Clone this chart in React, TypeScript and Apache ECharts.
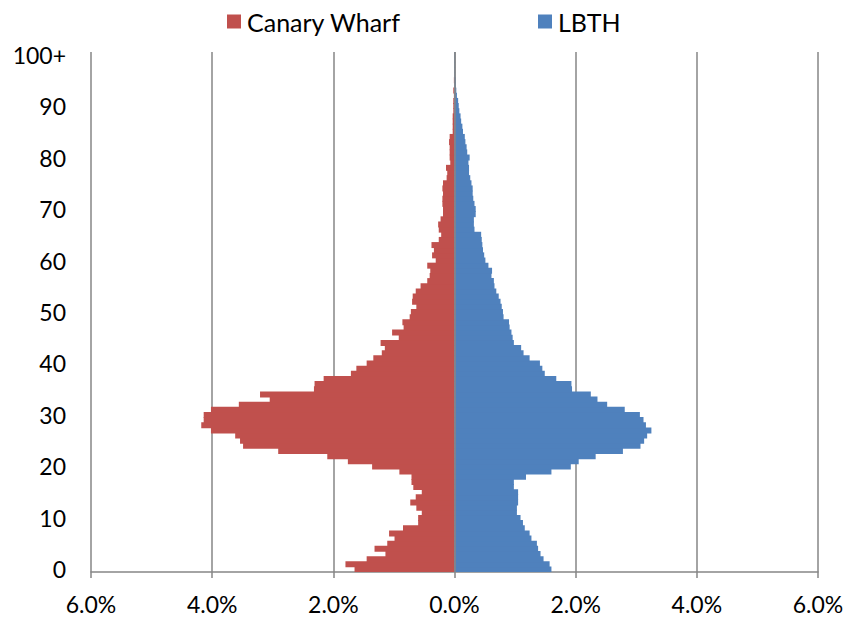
import React, { useEffect, useRef } from "react";
import * as echarts from "echarts";

// Age categories 0..99 and 100+
const ageLabels: string[] = Array.from({ length: 100 }, (_, i) => String(i)).concat(["100+"]);

// Share of population (%) by single year of age
const canaryWharf: number[] = [
  1.65, 1.80, 1.45, 1.14, 1.32, 1.11, 0.99, 1.08, 0.85, 0.60,
  0.60, 0.54, 0.63, 0.73, 0.64, 0.54, 0.68, 0.71, 0.71, 0.91,
  1.36, 1.76, 2.10, 2.91, 3.49, 3.54, 3.62, 4.02, 4.18, 4.14,
  4.14, 4.02, 3.56, 3.05, 3.21, 2.32, 2.31, 2.16, 1.71, 1.62,
  1.45, 1.34, 1.20, 1.15, 1.22, 0.92, 1.03, 0.84, 0.86, 0.74,
  0.72, 0.63, 0.70, 0.69, 0.64, 0.56, 0.45, 0.41, 0.40, 0.45,
  0.31, 0.37, 0.34, 0.38, 0.26, 0.22, 0.26, 0.27, 0.23, 0.19,
  0.19, 0.20, 0.20, 0.19, 0.20, 0.19, 0.13, 0.12, 0.14, 0.07,
  0.08, 0.08, 0.08, 0.09, 0.08, 0.03, 0.03, 0.03, 0.03, 0.02,
  0.02, 0.02, 0.01, 0.02, 0.00, 0.01, 0.00, 0.00, 0.00, 0.00,
  0.00,
];

const lbth: number[] = [
  1.60, 1.57, 1.47, 1.42, 1.38, 1.36, 1.27, 1.24, 1.16, 1.13,
  1.09, 1.03, 1.03, 1.05, 1.05, 1.05, 0.98, 0.98, 1.18, 1.60,
  1.92, 2.05, 2.33, 2.78, 3.07, 3.13, 3.18, 3.25, 3.16, 3.12,
  3.06, 2.81, 2.52, 2.36, 2.25, 1.94, 1.93, 1.68, 1.49, 1.45,
  1.41, 1.24, 1.14, 1.10, 0.98, 0.96, 0.94, 0.91, 0.90, 0.81,
  0.80, 0.78, 0.76, 0.73, 0.69, 0.66, 0.65, 0.61, 0.62, 0.56,
  0.51, 0.49, 0.47, 0.46, 0.45, 0.44, 0.33, 0.32, 0.32, 0.35,
  0.35, 0.33, 0.31, 0.30, 0.30, 0.28, 0.26, 0.24, 0.24, 0.23,
  0.25, 0.21, 0.20, 0.18, 0.17, 0.14, 0.13, 0.11, 0.10, 0.08,
  0.07, 0.06, 0.04, 0.03, 0.02, 0.02, 0.01, 0.01, 0.01, 0.01,
  0.01,
];

const FONT = "Lato, 'Liberation Sans', sans-serif";
const GRID_COLOR = "#868686";
const RED = "#C0504D";
const BLUE = "#4F81BD";

export default function App() {
  const ref = useRef<HTMLDivElement>(null);

  useEffect(() => {
    if (!ref.current) return;
    const chart = echarts.init(ref.current, undefined, { renderer: "svg" });
    const legendCommon = {
      icon: "rect",
      itemWidth: 14,
      itemHeight: 14,
      padding: 0,
      itemGap: 0,
      top: 9,
      textStyle: { fontSize: 25, fontFamily: FONT, color: "#000", padding: [0, 0, 0, 1] },
      selectedMode: false,
    };
    chart.setOption({
      animation: false,
      textStyle: { fontFamily: FONT },
      legend: [
        { ...legendCommon, data: ["Canary Wharf"], left: 227 },
        { ...legendCommon, data: ["LBTH"], left: 538 },
      ],
      grid: {
        left: 91,
        right: 29,
        top: 52,
        bottom: 45,
        containLabel: false,
        outerBoundsMode: "none",
      },
      xAxis: {
        type: "value",
        min: -6,
        max: 6,
        interval: 2,
        axisLine: { show: true, onZero: false, lineStyle: { color: GRID_COLOR, width: 1.5 } },
        axisTick: { show: true, length: 6, lineStyle: { color: GRID_COLOR, width: 1.5 } },
        splitLine: { show: true, lineStyle: { color: GRID_COLOR, width: 1.5 } },
        axisLabel: {
          fontSize: 23,
          fontFamily: FONT,
          color: "#000",
          margin: 20,
          formatter: (v: number) => Math.abs(v).toFixed(1) + "%",
        },
      },
      yAxis: {
        type: "category",
        data: ageLabels,
        axisLine: { show: false, onZero: false },
        axisTick: { show: false },
        splitLine: { show: false },
        axisLabel: {
          interval: 9,
          margin: 25,
          fontSize: 23,
          fontFamily: FONT,
          color: "#000",
        },
      },
      series: [
        {
          name: "Canary Wharf",
          type: "bar",
          data: canaryWharf.map((v) => -v),
          itemStyle: { color: RED },
          barWidth: 6,
          barGap: "-100%",
          silent: true,
        },
        {
          name: "LBTH",
          type: "bar",
          data: lbth,
          itemStyle: { color: BLUE },
          barWidth: 6,
          barGap: "-100%",
          silent: true,
          markLine: {
            silent: true,
            symbol: ["none", "none"],
            label: { show: false },
            lineStyle: { color: GRID_COLOR, width: 1.5, type: "solid" },
            data: [{ xAxis: 0 }],
          },
        },
      ],
    });
    return () => chart.dispose();
  }, []);

  return (
    <div
      ref={ref}
      style={{ position: "fixed", left: 0, top: 0, width: 847, height: 617, background: "#fff" }}
    />
  );
}
